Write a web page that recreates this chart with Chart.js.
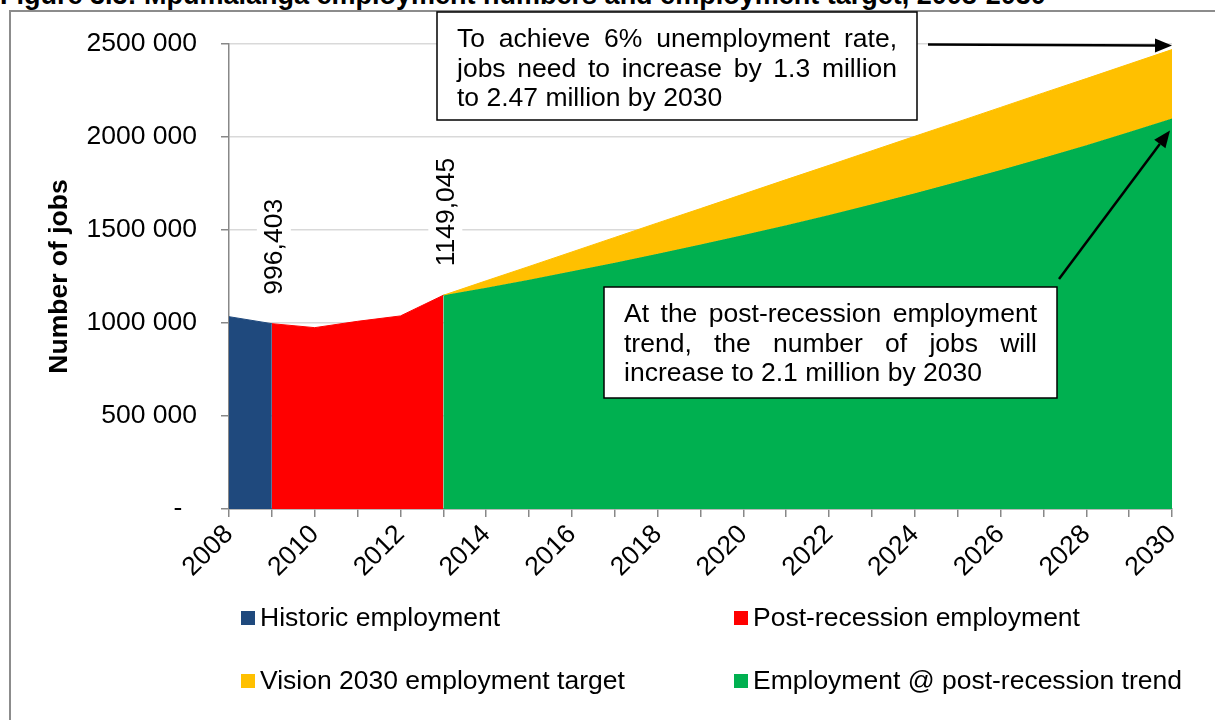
<!DOCTYPE html>
<html>
<head>
<meta charset="utf-8">
<script src="https://cdn.jsdelivr.net/npm/chart.js@4.4.1/dist/chart.umd.min.js"></script>
<style>
  html, body { margin: 0; padding: 0; background: #fff; overflow: hidden; }
  #wrap { position: relative; width: 1215px; height: 720px; overflow: hidden; }
  #frame { position: absolute; left: 9px; top: 10px; width: 1400px; height: 900px; border: 2px solid #8c8c8c; box-sizing: border-box; }
  #title { position: absolute; left: 0; top: -18px; font: bold 27px 'Liberation Sans', Arial, sans-serif; line-height: 26px; white-space: nowrap; color: #000; }
  canvas { position: absolute; left: 0; top: 0; }
</style>
</head>
<body>
<div id="wrap">
  <div id="title">Figure 3.3: Mpumalanga employment numbers and employment target, 2008-2030</div>
  <div id="frame"></div>
  <canvas id="chart" width="1215" height="720"></canvas>
</div>
<script>
const years = ['2008', '2009', '2010', '2011', '2012', '2013', '2014', '2015', '2016', '2017', '2018', '2019',
	'2020', '2021', '2022', '2023', '2024', '2025', '2026', '2027', '2028', '2029', '2030']

const historic = [1034000, 996403, null, null, null, null, null, null, null, null, null, null,
	null, null, null, null, null, null, null, null, null, null, null]
const postRecession = [null, 996403, 975000, 1009000, 1038000, 1149045, null, null, null, null, null, null,
	null, null, null, null, null, null, null, null, null, null, null]
const target = [null, null, null, null, null, 1149045, 1227000, 1304000, 1382000, 1460000, 1538000, 1615000,
	1693000, 1771000, 1848000, 1926000, 2004000, 2081000, 2159000, 2237000, 2314000, 2392000, 2470000]
const trend = [null, null, null, null, null, 1149045, 1190000, 1233000, 1278000, 1324000, 1372000, 1422000,
	1473000, 1526000, 1581000, 1638000, 1697000, 1759000, 1822000, 1888000, 1956000, 2027000, 2100000]

const seriesNames = ['Historic employment', 'Post-recession employment', 'Vision 2030 employment target', 'Employment @ post-recession trend']
const seriesColors = ['#1F497D', '#FF0000', '#FFC000', '#00B050']

// points of the post-recession series that get a value label
const labelledPoints = [1, 5]

const noteTarget = ['To achieve 6% unemployment rate,', 'jobs need to increase by 1.3 million', 'to 2.47 million by 2030']
const noteTrend = ['At the post-recession employment', 'trend, the number of jobs will', 'increase to 2.1 million by 2030']

const FONT = "'Liberation Sans', Arial, sans-serif"
const SIZE = 26.5

function fmtLabel(v) {
	return Math.floor(v / 1000) + ',' + String(v % 1000).padStart(3, '0')
}

function area(i, data, fill) {
	return {
		label: seriesNames[i],
		data,
		backgroundColor: seriesColors[i],
		borderColor: seriesColors[i],
		borderWidth: 1,
		pointRadius: 0,
		tension: 0,
		fill
	}
}

function drawNote(ctx, box, lines) {
	ctx.fillStyle = '#fff'
	ctx.fillRect(box.x, box.y, box.w, box.h)
	ctx.strokeStyle = '#000'
	ctx.lineWidth = 1.5
	ctx.strokeRect(box.x, box.y, box.w, box.h)
	ctx.fillStyle = '#000'
	ctx.textBaseline = 'alphabetic'
	ctx.textAlign = 'left'
	lines.forEach((line, i) => {
		const y = box.y + 35 + i * 29.5
		if (i === lines.length - 1) {
			ctx.fillText(line, box.x + 20, y)
			return
		}
		// justified like the text box in the original
		const words = line.split(' ')
		const used = words.reduce((s, w) => s + ctx.measureText(w).width, 0)
		const gap = (box.w - 40 - used) / (words.length - 1)
		let x = box.x + 20
		words.forEach((w) => {
			ctx.fillText(w, x, y)
			x += ctx.measureText(w).width + gap
		})
	})
}

function arrow(ctx, x1, y1, x2, y2) {
	const a = Math.atan2(y2 - y1, x2 - x1)
	const len = 17
	const half = 7
	const bx = x2 - len * Math.cos(a)
	const by = y2 - len * Math.sin(a)
	ctx.strokeStyle = '#000'
	ctx.fillStyle = '#000'
	ctx.lineWidth = 2.5
	ctx.beginPath()
	ctx.moveTo(x1, y1)
	ctx.lineTo(bx, by)
	ctx.stroke()
	ctx.beginPath()
	ctx.moveTo(x2, y2)
	ctx.lineTo(bx + half * Math.sin(a), by - half * Math.cos(a))
	ctx.lineTo(bx - half * Math.sin(a), by + half * Math.cos(a))
	ctx.closePath()
	ctx.fill()
}

const extras = {
	id: 'extras',
	afterDatasetsDraw(chart) {
		const { ctx } = chart
		const meta = chart.getDatasetMeta(1)
		ctx.save()
		ctx.font = SIZE + 'px ' + FONT
		labelledPoints.forEach((idx) => {
			const pt = meta.data[idx]
			const text = fmtLabel(postRecession[idx])
			const w = ctx.measureText(text).width
			ctx.save()
			ctx.translate(pt.x + 2, pt.y - 29)
			ctx.rotate(-Math.PI / 2)
			ctx.fillStyle = '#fff'
			ctx.fillRect(-2, -17, w + 4, 34)
			ctx.fillStyle = '#000'
			ctx.textBaseline = 'middle'
			ctx.fillText(text, 0, 1)
			ctx.restore()
		})
		ctx.restore()
	},
	afterDraw(chart) {
		const { ctx } = chart
		ctx.save()
		ctx.font = SIZE + 'px ' + FONT

		// legend, two columns
		const cols = [241, 734]
		const rows = [618, 681]
		chart.data.datasets.forEach((ds, i) => {
			const x = cols[i % 2]
			const y = rows[Math.floor(i / 2)]
			ctx.fillStyle = ds.backgroundColor
			ctx.fillRect(x, y - 7, 14, 14)
			ctx.fillStyle = '#000'
			ctx.textBaseline = 'middle'
			ctx.textAlign = 'left'
			ctx.fillText(ds.label, x + 19, y + 1)
		})

		drawNote(ctx, { x: 437, y: 12, w: 480, h: 108 }, noteTarget)
		drawNote(ctx, { x: 604, y: 287, w: 453, h: 111 }, noteTrend)

		const last = years.length - 1
		const endX = chart.scales.x.getPixelForValue(last)
		const yTarget = chart.scales.y.getPixelForValue(target[last])
		const yTrend = chart.scales.y.getPixelForValue(trend[last])
		arrow(ctx, 928, yTarget - 5, endX, yTarget - 4)
		arrow(ctx, 1059, 279, endX - 2, yTrend + 12)
		ctx.restore()
	}
}

new Chart(document.getElementById('chart'), {
	type: 'line',
	data: {
		labels: years,
		datasets: [
			area(0, historic, 'origin'),
			area(1, postRecession, 'origin'),
			area(2, target, '+1'),
			area(3, trend, 'origin')
		]
	},
	options: {
		responsive: false,
		animation: false,
		layout: { padding: { top: 44, right: 43, left: 0, bottom: 0 } },
		plugins: {
			legend: { display: false },
			tooltip: { enabled: false }
		},
		scales: {
			x: {
				grid: { drawOnChartArea: false, tickLength: 8, tickColor: '#888', lineWidth: 1.5 },
				border: { color: '#888', width: 1.5 },
				ticks: {
					autoSkip: false,
					minRotation: 45,
					maxRotation: 45,
					padding: 2,
					color: '#000',
					font: { family: FONT, size: SIZE },
					callback: (v, i) => (i % 2 === 0 ? years[i] : '')
				},
				afterFit: (s) => { s.height = 211 }
			},
			y: {
				min: 0,
				max: 2500000,
				grid: { color: '#D9D9D9', lineWidth: 1.5, tickLength: 8, tickColor: '#888' },
				border: { color: '#888', width: 1.5 },
				ticks: {
					stepSize: 500000,
					padding: 24,
					color: '#000',
					font: { family: FONT, size: SIZE },
					callback: (v) => (v === 0 ? '-  ' : v / 1000 + ' 000')
				},
				title: {
					display: true,
					text: 'Number of jobs',
					color: '#000',
					font: { family: FONT, size: 26.5, weight: 'bold' },
					padding: { top: 44, bottom: 0 }
				},
				afterFit: (s) => { s.width = 229 }
			}
		}
	},
	plugins: [extras]
})
</script>
</body>
</html>
